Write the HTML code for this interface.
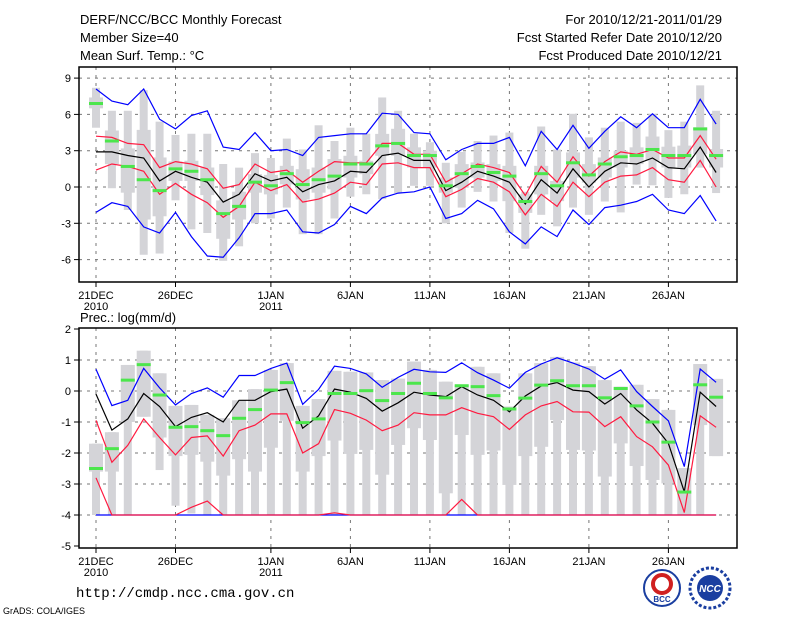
<!DOCTYPE html>
<html><head><meta charset="utf-8"><style>
html,body{margin:0;padding:0;background:#fff;}
svg{display:block;font-family:"Liberation Sans",sans-serif;}
</style></head><body>
<svg id="chart" width="800" height="618" xmlns="http://www.w3.org/2000/svg">
<rect width="800" height="618" fill="#fff"/>
<g font-size="13" fill="#000">
<text x="80" y="24">DERF/NCC/BCC Monthly Forecast</text>
<text x="80" y="42">Member Size=40</text>
<text x="80" y="60">Mean Surf. Temp.: °C</text>
<text x="722" y="24" text-anchor="end">For 2010/12/21-2011/01/29</text>
<text x="722" y="42" text-anchor="end">Fcst Started Refer Date 2010/12/20</text>
<text x="722" y="60" text-anchor="end">Fcst Produced Date 2010/12/21</text>
<text x="80" y="322">Prec.: log(mm/d)</text>
<text x="76" y="597" font-family="Liberation Mono, monospace" font-size="14">http://cmdp.ncc.cma.gov.cn</text>
<text x="3" y="614" font-size="9">GrADS: COLA/IGES</text>
</g>
<g>
<circle cx="662" cy="588" r="18" fill="#fff" stroke="#1a3ea0" stroke-width="2"/>
<circle cx="662" cy="584" r="9" fill="none" stroke="#d02020" stroke-width="4"/>
<text x="662" y="602" font-size="8" text-anchor="middle" fill="#1a3ea0" font-weight="bold">BCC</text>
</g>
<g>
<circle cx="710" cy="588" r="20" fill="#fff" stroke="#1a3ea0" stroke-width="3" stroke-dasharray="3 2"/>
<circle cx="710" cy="588" r="13" fill="#1a3ea0"/>
<text x="710" y="592" font-size="10" text-anchor="middle" fill="#fff" font-style="italic" font-weight="bold">NCC</text>
</g>
<g id="plots"></g>
</svg>
<script>
const xTickLabels = ["21DEC","26DEC","1JAN","6JAN","11JAN","16JAN","21JAN","26JAN"];
const xTickDays = [0,5,11,16,21,26,31,36];
const xTickYears = ["2010","","2011","","","","",""];
const tYTicks = [9,6,3,0,-3,-6];
const tMean = [2.9,2.9,2.6,2.4,0.5,1.3,0.8,0.4,-1.25,-0.6,1.1,0.5,0.8,-0.4,0.2,0.5,1.3,1.2,2.6,2.8,2.2,2.2,-0.3,0.4,1.3,0.9,0.4,-1.4,0.6,-0.5,1.5,0,1.3,2.0,1.9,2.4,1.6,1.5,3.3,1.2];
const tRedUp = [4.2,4.1,3.6,3.5,1.6,2.1,1.9,1.5,-0.1,0.2,1.9,1.2,1.4,0.4,1.3,2.1,2.0,2.0,3.6,3.6,2.7,2.7,0.4,1.1,1.9,1.6,1.2,-0.7,1.7,0.4,2.5,0.9,2.1,2.9,2.7,3.1,2.4,2.4,4.25,2.3];
const tRedLo = [1.4,1.9,1.7,1.3,-0.6,0.3,-0.6,-1.3,-2.5,-1.6,0.4,-0.3,0.2,-1.25,-1.0,-0.5,0.4,0.2,1.9,2.0,1.6,1.6,-0.8,-0.2,0.7,0.4,-0.4,-2.3,-0.6,-1.6,0.4,-0.8,0.4,0.9,1.0,1.6,0.6,0.4,2.2,0];
const tBlueUp = [8.1,7.1,6.8,8.1,5.6,4.8,5.9,6.3,3.3,3.1,4.5,3.0,3.1,2.6,4.1,4.25,4.4,4.4,6.1,6.0,4.5,4.4,2.25,3.1,3.6,3.6,4.1,1.75,4.6,3.1,5.1,3.2,4.6,5.8,4.9,6.05,4.9,4.9,7.25,5.2];
const tBlueLo = [-2.1,-1.3,-1.6,-3.3,-3.8,-2.1,-4.1,-5.7,-5.8,-4.2,-2.2,-2.2,-1.9,-3.7,-3.8,-3.1,-1.6,-2.2,-0.9,-0.5,-0.4,0,-2.6,-2.2,-1.1,-1.8,-3.7,-4.7,-3.3,-4.1,-1.9,-3.1,-1.7,-1.5,-1.2,-0.6,-1.9,-2.2,-0.7,-2.8];
const tGreen = [6.9,3.8,1.7,0.6,-0.3,1.5,1.3,0.6,-2.2,-1.6,0.4,0.1,1.1,0.2,0.6,0.9,1.9,1.9,3.4,3.6,2.6,2.6,0.1,1.1,1.7,1.2,0.9,-1.2,1.1,0.1,2.0,1.0,1.9,2.5,2.6,3.1,2.6,2.6,4.8,2.6];
const tWhiskTop = [8.2,6.3,6.3,8.0,5.4,4.3,4.4,4.4,1.9,1.6,2.8,2.4,4.0,3.1,5.1,3.8,4.9,4.4,7.4,6.3,4.4,3.7,2.0,2.9,3.8,4.25,4.5,-0.4,5.0,3.1,6.05,4.1,4.9,5.4,5.3,6.05,4.7,5.4,8.4,6.3];
const tWhiskBot = [4.9,-0.1,-1.9,-5.6,-5.5,-1.1,-3.5,-3.8,-6.1,-4.9,-3.0,-2.6,-1.7,-3.9,-3.9,-2.6,-0.8,-0.6,-1.0,-0.5,0.1,0.1,-3.0,-1.7,-0.4,-1.2,-3.8,-5.1,-2.3,-3.25,-1.7,-2.3,-1.2,-2.1,0.2,0.14,-0.9,-0.6,1.6,-0.5];
const tBoxTop = [7.4,4.67,3.19,4.72,2.44,2.11,2.17,1.61,-1.11,-0.39,1.06,1.0,1.75,1.47,1.61,2.31,2.58,2.17,4.39,4.81,3.28,3.0,0.78,1.89,2.03,1.89,1.75,-0.61,1.75,0.5,2.86,1.89,2.44,3.0,3.28,4.17,3.33,3.42,4.94,3.14];
const tBoxBot = [6.5,1.89,-0.47,-2.69,-2.42,0.5,0.5,-0.67,-4.28,-2.69,-0.47,-0.61,0.22,-1.03,-0.47,-0.19,0.78,1.06,2.58,2.58,1.61,1.61,-0.47,-0.06,0.78,0.5,-1.17,-2.14,-0.61,-1.17,0.78,0.36,0.78,1.61,1.89,2.17,1.61,1.61,2.72,1.61];

const pYTicks = [2,1,0,-1,-2,-3,-4,-5];
const pMean = [-0.1,-1.26,-0.9,-0.08,-0.5,-1.15,-0.85,-0.7,-1.0,-0.3,-0.3,-0.02,0.06,-1.2,-0.8,0.06,-0.04,-0.24,-0.65,-0.38,-0.04,-0.13,-0.18,0.14,-0.13,-0.3,-0.67,-0.16,0.16,0.27,0.03,-0.02,-0.42,-0.08,-0.61,-1.04,-1.69,-3.25,-0.04,-0.5];
const pRedUp = [-0.95,-2.3,-1.75,-0.9,-1.5,-2.06,-1.5,-1.45,-2.1,-1.28,-1.1,-0.74,-0.74,-2.0,-1.7,-0.6,-0.72,-0.94,-1.28,-1.1,-0.7,-0.77,-0.77,-0.54,-0.72,-0.83,-1.24,-0.77,-0.48,-0.34,-0.67,-0.68,-1.15,-0.83,-1.47,-1.8,-2.39,-3.92,-0.8,-1.17];
const pRedLo = [-2.8,-4,-4,-4,-4,-4,-3.75,-3.55,-4,-4,-4,-4,-4,-4,-4,-3.93,-4,-4,-4,-4,-4,-4,-4,-3.5,-4,-4,-4,-4,-4,-4,-4,-4,-4,-4,-4,-4,-4,-4,-4,-4];
const pBlueLo = [-4,-4,-4,-4,-4,-4,-4,-4,-4,-4,-4,-4,-4,-4,-4,-4,-4,-4,-4,-4,-4,-4,-4,-4,-4,-4,-4,-4,-4,-4,-4,-4,-4,-4,-4,-4,-4,-4,-4,-4];
const pBlueUp = [0.7,-0.47,-0.3,0.73,0.1,-0.45,-0.08,0.1,-0.2,0.5,0.5,0.73,0.9,-0.43,0.05,0.8,0.73,0.55,0.12,0.44,0.7,0.62,0.6,0.91,0.59,0.35,0.09,0.6,0.87,1.07,0.9,0.71,0.38,0.68,-0.02,-0.5,-0.96,-2.44,0.71,0.28];
const pGreen = [-2.5,-1.86,0.35,0.85,-0.13,-1.17,-1.15,-1.28,-1.44,-0.88,-0.6,0.03,0.27,-1.02,-0.9,-0.08,-0.08,0.01,-0.31,-0.08,0.25,-0.08,-0.22,0.17,0.14,-0.15,-0.58,-0.23,0.19,0.33,0.17,0.17,-0.22,0.08,-0.48,-1.0,-1.65,-3.26,0.2,-0.2];
const pBoxTop = [-1.7,-1.33,0.84,1.3,0.57,-0.48,-0.45,-0.77,-0.88,-0.3,0.06,0.68,0.9,-0.48,-0.26,0.65,0.62,0.6,0.35,0.4,0.95,0.68,0.3,0.2,0.78,0.57,-0.5,0.57,0.9,1.1,0.92,0.8,0.35,0.14,0.2,-0.26,-0.61,-2.49,0.87,0.39];
const pBoxBot = [-2.6,-2.6,-1.0,-0.83,-1.5,-2.1,-2.06,-2.28,-2.73,-2.2,-2.6,-1.83,-0.96,-2.6,-2.1,-1.6,-2.03,-1.9,-2.7,-1.74,-1.2,-1.58,-3.3,-1.42,-2.06,-1.92,-3.03,-2.1,-1.8,-0.94,-1.9,-1.92,-2.76,-1.69,-2.42,-2.87,-2.98,-4,-1.1,-2.1];
const pWhiskBot = [-4,-4,-4,-0.83,-2.55,-3.7,-3.95,-4,-4,-4,-4,-4,-4,-4,-4,-4,-4,-4,-4,-4,-4,-4,-4,-4,-4,-4,-4,-4,-4,-4,-4,-4,-4,-4,-4,-4,-4,-4,-4,-2.1];

const NS = "http://www.w3.org/2000/svg";
const root = document.getElementById('plots');
const X0 = 79, X1 = 737;
function xDay(i){ return 96 + i * 15.9; }
function mk(tag, attrs, parent){
  const e = document.createElementNS(NS, tag);
  for (const k in attrs) e.setAttribute(k, attrs[k]);
  (parent || root).appendChild(e);
  return e;
}

function panel(cfg){
  const g = mk('g', {});
  
  
  const yS = v => cfg.y0 - v * cfg.ppu;
  const clip = v => Math.max(cfg.vmin, Math.min(cfg.vmax, v));
  cfg.yTicks.forEach(t => {
    const y = yS(t);
    if (y > cfg.top + 2 && y < cfg.bot - 2) {
      const l = mk('line', {x1:X0, x2:X1, y1:y, y2:y, stroke:'#777', 'stroke-width':1, 'stroke-dasharray':'3 5'}, g);
      
      
    }
    const tk = mk('line', {x1:X0-5, x2:X0, y1:y, y2:y, stroke:'#000'}, g);
    
    
    const tx = mk('text', {x:X0-8, y:y+4, 'font-size':11, 'text-anchor':'end'}, g);
    tx.textContent = String(t);
    
    
  });
  xTickDays.forEach((d, k) => {
    const x = xDay(d);
    const l = mk('line', {x1:x, x2:x, y1:cfg.top, y2:cfg.bot, stroke:'#777', 'stroke-width':1, 'stroke-dasharray':'3 5'}, g);
    
    
    const tk = mk('line', {x1:x, x2:x, y1:cfg.bot, y2:cfg.bot+5, stroke:'#000'}, g);
    
    
    const tx = mk('text', {x:x, y:cfg.bot+17, 'font-size':11, 'text-anchor':'middle'}, g);
    tx.textContent = xTickLabels[k];
    
    
    if (xTickYears[k]) {
      const ty = mk('text', {x:x, y:cfg.bot+28, 'font-size':11, 'text-anchor':'middle'}, g);
      ty.textContent = xTickYears[k];
      
      
    }
  });
  for (let i = 0; i < cfg.boxTop.length; i++) {
    const x = xDay(i);
    const wt = clip(cfg.whiskTop[i]), wb = clip(cfg.whiskBot[i]);
    const r1 = mk('rect', {x:x-4, y:yS(wt), width:8, height:Math.max(0, yS(wb)-yS(wt)), fill:'#d4d4d8'}, g);
    
    
    const bt = clip(cfg.boxTop[i]), bb = clip(cfg.boxBot[i]);
    const r2 = mk('rect', {x:x-7, y:yS(bt), width:14, height:Math.max(0, yS(bb)-yS(bt)), fill:'#d4d4d8'}, g);
    
    
  }
  cfg.lines.forEach(ln => {
    const pts = ln.data.map((v, i) => xDay(i).toFixed(1) + ',' + yS(clip(v)).toFixed(1)).join(' ');
    const p = mk('polyline', {points:pts, fill:'none', stroke:ln.color, 'stroke-width':1.2}, g);
    
    
  });
  cfg.green.forEach((v, i) => {
    const r = mk('rect', {x:xDay(i)-7, y:yS(clip(v))-1.5, width:14, height:3, fill:'#4ce64c'}, g);
    
    
  });
  const b = mk('rect', {x:X0, y:cfg.top, width:X1-X0, height:cfg.bot-cfg.top, fill:'none', stroke:'#000', 'stroke-width':1.5}, g);
  
  
}

panel({name:'temperature-panel', top:67, bot:282, y0:187, ppu:12.1, vmin:-7.8, vmax:9.6,
  yTicks:tYTicks, whiskTop:tWhiskTop, whiskBot:tWhiskBot, boxTop:tBoxTop, boxBot:tBoxBot, green:tGreen,
  lines:[{name:'temp-max-line',data:tBlueUp,color:'#0000ff'},{name:'temp-min-line',data:tBlueLo,color:'#0000ff'},
         {name:'temp-upper-std-line',data:tRedUp,color:'#ff1a40'},{name:'temp-lower-std-line',data:tRedLo,color:'#ff1a40'},
         {name:'temp-mean-line',data:tMean,color:'#000'}]});

panel({name:'precip-panel', top:328, bot:548, y0:391, ppu:31, vmin:-4, vmax:2,
  yTicks:pYTicks, whiskTop:pBoxTop, whiskBot:pWhiskBot, boxTop:pBoxTop, boxBot:pBoxBot, green:pGreen,
  lines:[{name:'precip-min-line',data:pBlueLo,color:'#0000ff'},{name:'precip-lower-line',data:pRedLo,color:'#ff1a40'},{name:'precip-max-line',data:pBlueUp,color:'#0000ff'},
         {name:'precip-lower-std-line',data:pRedUp,color:'#ff1a40'},{name:'precip-mean-line',data:pMean,color:'#000'}]});
</script>
</body></html>
